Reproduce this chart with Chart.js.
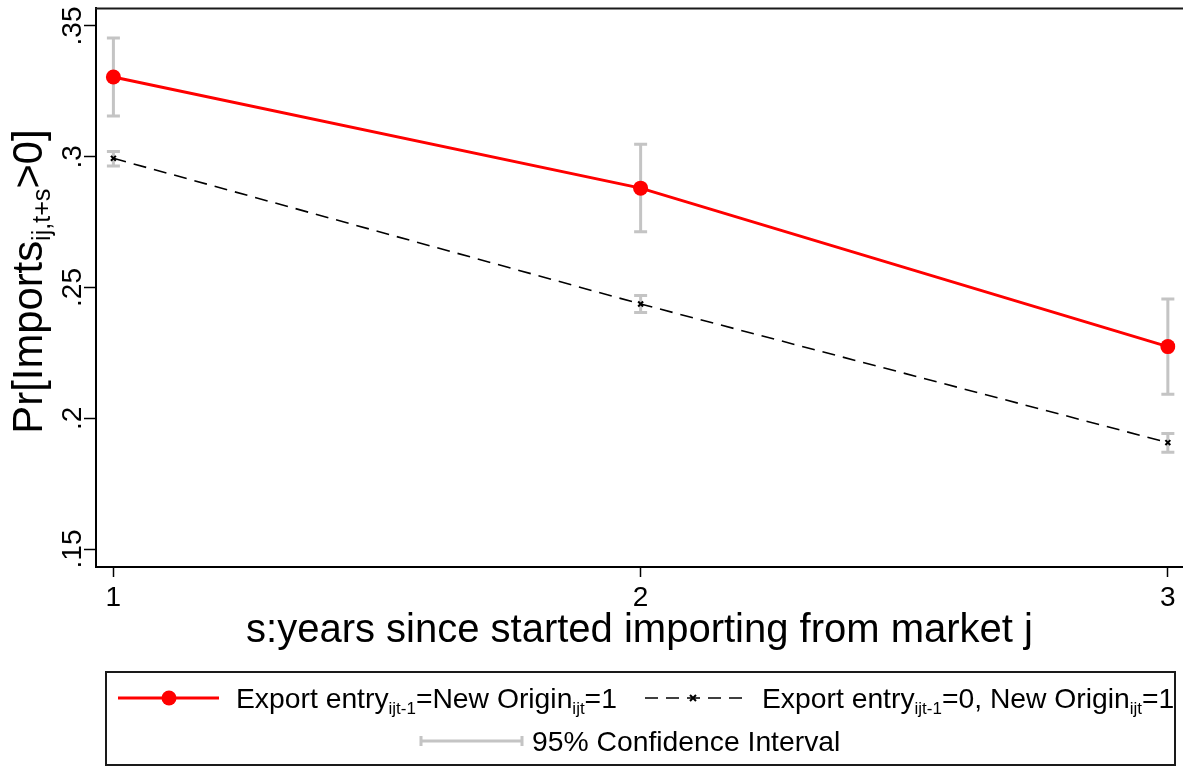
<!DOCTYPE html>
<html>
<head>
<meta charset="utf-8">
<script src="https://cdn.jsdelivr.net/npm/chart.js@4.4.1/dist/chart.umd.min.js"></script>
<style>
  html, body { margin: 0; padding: 0; background: #fff; overflow: hidden; }
  #wrap { width: 1183px; height: 767px; position: relative; }
</style>
</head>
<body>
<div id="wrap"><canvas id="c" width="1183" height="767"></canvas></div>
<script>
// Years since the firm started importing from market j
const years = [1, 2, 3];

// Export entry = New Origin = 1
const entryEst = [0.3305, 0.2880, 0.2274];
const entryLo  = [0.3156, 0.2713, 0.2092];
const entryHi  = [0.3454, 0.3048, 0.2456];

// Export entry = 0, New Origin = 1
const noEntryEst = [0.2994, 0.2437, 0.1907];
const noEntryLo  = [0.2965, 0.2404, 0.1870];
const noEntryHi  = [0.3020, 0.2469, 0.1942];

// Axis ticks
const yTicks = [0.15, 0.2, 0.25, 0.3, 0.35];
const yTickLabels = ['.15', '.2', '.25', '.3', '.35'];
const xTicks = [1, 2, 3];
const xTickLabels = ['1', '2', '3'];

const FONT = '"Liberation Sans", Arial, Helvetica, sans-serif';
const CI_COLOR = '#c4c4c4';

// Draws a run of text pieces, some of them as subscripts, starting at (x, y)
function drawRich(ctx, parts, x, y, size, align) {
  const subSize = size * 0.6;
  const widths = parts.map(([t, sub]) => {
    ctx.font = (sub ? subSize : size) + 'px ' + FONT;
    return ctx.measureText(t).width;
  });
  const total = widths.reduce((a, b) => a + b, 0);
  let cx = align === 'center' ? x - total / 2 : x;
  ctx.textAlign = 'left';
  ctx.textBaseline = 'alphabetic';
  parts.forEach(([t, sub], i) => {
    ctx.font = (sub ? subSize : size) + 'px ' + FONT;
    ctx.fillText(t, cx, y + (sub ? size * 0.2 : 0));
    cx += widths[i];
  });
  return total;
}

// Confidence interval whiskers, drawn beneath the lines and markers
const ciPlugin = {
  id: 'ciWhiskers',
  beforeDatasetsDraw(chart) {
    const { ctx, scales: { x, y } } = chart;
    ctx.save();
    ctx.strokeStyle = CI_COLOR;
    ctx.lineWidth = 3;
    chart.data.datasets.forEach(ds => {
      const [lo, hi] = ds.ci;
      years.forEach((yr, i) => {
        const px = x.getPixelForValue(yr);
        const pLo = y.getPixelForValue(lo[i]);
        const pHi = y.getPixelForValue(hi[i]);
        ctx.beginPath();
        ctx.moveTo(px, pLo); ctx.lineTo(px, pHi);
        ctx.moveTo(px - 6.5, pLo); ctx.lineTo(px + 6.5, pLo);
        ctx.moveTo(px - 6.5, pHi); ctx.lineTo(px + 6.5, pHi);
        ctx.stroke();
      });
    });
    ctx.restore();
  }
};

// Rotated y tick labels, axis titles, frame and legend
const decorPlugin = {
  id: 'decor',
  afterDraw(chart) {
    const { ctx, chartArea, scales: { y } } = chart;
    ctx.save();
    ctx.fillStyle = '#000';

    // top edge of the plot region
    ctx.strokeStyle = '#1a1a1a';
    ctx.lineWidth = 2;
    ctx.beginPath();
    ctx.moveTo(chartArea.left - 1, chartArea.top + 0.5);
    ctx.lineTo(chart.width, chartArea.top + 0.5);
    ctx.stroke();

    // bottom axis line carried on to the right edge
    ctx.strokeStyle = '#000';
    ctx.beginPath();
    ctx.moveTo(chartArea.right - 1, chartArea.bottom);
    ctx.lineTo(chart.width, chartArea.bottom);
    ctx.stroke();

    // y tick labels, written vertically
    yTicks.forEach((v, i) => {
      const py = y.getPixelForValue(v);
      ctx.save();
      ctx.translate(81, py);
      ctx.rotate(-Math.PI / 2);
      ctx.font = '28px ' + FONT;
      ctx.textAlign = 'center';
      ctx.textBaseline = 'alphabetic';
      ctx.fillText(yTickLabels[i], 0, 0);
      ctx.restore();
    });

    // y axis title
    ctx.save();
    ctx.translate(42, (chartArea.top + chartArea.bottom) / 2 - 6);
    ctx.rotate(-Math.PI / 2);
    drawRich(ctx, [['Pr[Imports'], ['ij,t+s', true], ['>0]']], 0, 0, 41.8, 'center');
    ctx.restore();

    // x axis title
    ctx.font = '40px ' + FONT;
    ctx.textAlign = 'center';
    ctx.textBaseline = 'alphabetic';
    ctx.fillText('s:years since started importing from market j', (chartArea.left + chart.width) / 2, 642);

    // legend frame
    ctx.strokeStyle = '#1a1a1a';
    ctx.lineWidth = 2;
    ctx.strokeRect(106, 672, 1069, 93);

    const LF = 28.3;
    const row1 = 698, row2 = 741;

    // legend key: red line with dot
    ctx.strokeStyle = '#ff0000';
    ctx.lineWidth = 3;
    ctx.beginPath(); ctx.moveTo(118, row1); ctx.lineTo(219, row1); ctx.stroke();
    ctx.fillStyle = '#ff0000';
    ctx.beginPath(); ctx.arc(169, row1, 7.5, 0, Math.PI * 2); ctx.fill();
    ctx.fillStyle = '#000';
    drawRich(ctx, [['Export entry'], ['ijt-1', true], ['=New Origin'], ['ijt', true], ['=1']], 236, row1 + 10, LF);

    // legend key: dashed black line with small cross
    ctx.strokeStyle = '#000';
    ctx.lineWidth = 1.6;
    ctx.setLineDash([13, 8]);
    ctx.beginPath(); ctx.moveTo(645, row1); ctx.lineTo(745, row1); ctx.stroke();
    ctx.setLineDash([]);
    ctx.lineWidth = 2;
    ctx.beginPath();
    ctx.moveTo(690, row1 - 3); ctx.lineTo(696, row1 + 3);
    ctx.moveTo(696, row1 - 3); ctx.lineTo(690, row1 + 3);
    ctx.stroke();
    drawRich(ctx, [['Export entry'], ['ijt-1', true], ['=0, New Origin'], ['ijt', true], ['=1']], 762, row1 + 10, LF);

    // legend key: confidence interval
    ctx.strokeStyle = CI_COLOR;
    ctx.lineWidth = 3;
    ctx.beginPath();
    ctx.moveTo(421, row2); ctx.lineTo(522, row2);
    ctx.moveTo(421, row2 - 5); ctx.lineTo(421, row2 + 5);
    ctx.moveTo(522, row2 - 5); ctx.lineTo(522, row2 + 5);
    ctx.stroke();
    ctx.fillStyle = '#000';
    drawRich(ctx, [['95% Confidence Interval']], 532, row2 + 10, LF);

    ctx.restore();
  }
};

const ctx = document.getElementById('c').getContext('2d');
new Chart(ctx, {
  type: 'scatter',
  data: {
    datasets: [
      {
        label: 'Export entry=New Origin=1',
        data: years.map((x, i) => ({ x, y: entryEst[i] })),
        ci: [entryLo, entryHi],
        showLine: true,
        borderColor: '#ff0000',
        borderWidth: 3,
        pointRadius: 7.5,
        pointBackgroundColor: '#ff0000',
        pointBorderWidth: 0,
        order: 1
      },
      {
        label: 'Export entry=0, New Origin=1',
        data: years.map((x, i) => ({ x, y: noEntryEst[i] })),
        ci: [noEntryLo, noEntryHi],
        showLine: true,
        borderColor: '#000',
        borderWidth: 1.6,
        borderDash: [13, 8],
        pointStyle: 'crossRot',
        pointRadius: 3.5,
        pointBorderColor: '#000',
        pointBorderWidth: 2,
        order: 2
      }
    ]
  },
  options: {
    responsive: false,
    animation: false,
    devicePixelRatio: 1,
    layout: { padding: { top: 8, right: 0, bottom: 0, left: 0 } },
    plugins: { legend: { display: false }, tooltip: { enabled: false } },
    scales: {
      x: {
        type: 'linear',
        min: 0.967,
        max: 3.0145,
        afterBuildTicks: s => { s.ticks = xTicks.map(v => ({ value: v })); },
        afterFit: s => { s.height = 200; s.paddingLeft = 0; s.paddingRight = 0; },
        grid: { drawOnChartArea: false, drawTicks: true, tickLength: 10, tickWidth: 1.5, tickColor: '#000' },
        border: { color: '#000', width: 2 },
        ticks: {
          color: '#000',
          font: { family: FONT, size: 28 },
          padding: 4,
          maxRotation: 0, minRotation: 0, autoSkip: false,
          callback: v => { const k = xTicks.indexOf(v); return k >= 0 ? xTickLabels[k] : ''; }
        }
      },
      y: {
        min: 0.14312,
        max: 0.35688,
        afterBuildTicks: s => { s.ticks = yTicks.map(v => ({ value: v })); },
        afterFit: s => { s.width = 96; s.paddingTop = 0; s.paddingBottom = 0; },
        grid: { drawOnChartArea: false, drawTicks: true, tickLength: 12, tickWidth: 1.5, tickColor: '#000' },
        border: { color: '#000', width: 2 },
        ticks: { display: false }
      }
    }
  },
  plugins: [ciPlugin, decorPlugin]
});
</script>
</body>
</html>
